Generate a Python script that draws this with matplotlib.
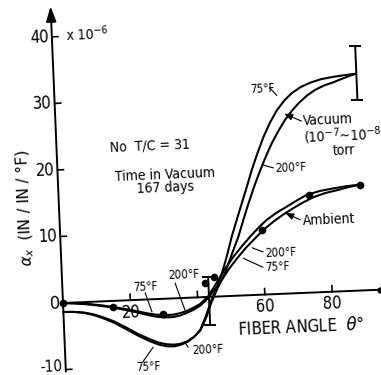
import matplotlib
matplotlib.use("Agg")
import matplotlib.pyplot as plt
from matplotlib.transforms import Affine2D

# thermal expansion alpha_x (x 10^-6 in/in/F) vs fiber angle (deg)
theta_vac_75 = [0, 3, 6, 9, 12, 15, 18.7, 22, 25.4, 28, 30.3, 32.5, 34.5, 36.5, 38.5, 40.4, 42.3, 44.0,
                45.8, 47.5, 49.2, 50.9, 52.6, 54.3, 56.0, 57.7, 59.6, 61.6, 63.7, 65.9, 68.2, 70.5,
                73.2, 76.1, 79.3, 82.5, 86.0, 89.6]
alpha_vac_75 = [-1.35, -1.4, -1.6, -2.0, -2.6, -3.3, -4.4, -5.4, -6.3, -6.85, -7.15, -7.2, -7.0, -6.6,
                -5.9, -4.9, -2.8, -0.6, 1.3, 3.4, 6.0, 8.9, 11.4, 13.85, 16.3, 18.8, 21.3, 23.7, 25.8,
                27.6, 29.0, 30.05, 30.9, 31.5, 31.95, 32.2, 32.4, 32.55]

theta_vac_200 = [0, 3, 6, 9, 12, 15, 18.7, 22, 25.4, 28, 30.3, 32.5, 34.5, 36.5, 38.5, 40.4, 42.3, 44.0,
                 46.0, 48.4, 50.5, 52.9, 54.6, 56.3, 58.2, 60.2, 62.1, 64.0, 66.1, 68.2, 70.3, 72.4,
                 75.0, 77.5, 80.2, 82.9, 86.2, 89.6]
alpha_vac_200 = [-1.35, -1.4, -1.55, -1.9, -2.45, -3.1, -4.15, -5.15, -6.0, -6.55, -6.85, -6.95, -6.85,
                 -6.5, -5.9, -5.0, -3.1, -0.9, 1.2, 3.4, 6.0, 8.9, 11.4, 13.8, 16.3, 18.7, 20.8, 22.7,
                 24.5, 26.1, 27.4, 28.5, 29.6, 30.4, 31.0, 31.4, 32.0, 32.55]

theta_amb_200 = [0, 4, 8, 11.5, 14.8, 19, 22.7, 25.5, 27.7, 30, 32.5, 34.7, 36.7, 38.8, 40.7, 43.1, 45.9,
                 48.5, 51.2, 53.8, 56.4, 59, 61.5, 64.5, 67.6, 70.6, 73.7, 77.7, 81.7, 85.7, 89.7]
alpha_amb_200 = [0, -0.15, -0.35, -0.6, -0.9, -1.35, -1.8, -2.15, -2.35, -2.45, -2.45, -2.25, -1.95,
                 -1.5, -1.0, 0.05, 2.1, 4.1, 5.9, 7.4, 8.8, 10.1, 11.2, 12.2, 13.05, 13.9, 14.7, 15.2,
                 15.5, 15.75, 15.9]

theta_amb_75 = [0, 4, 8, 11.5, 14.8, 19, 22.7, 25.5, 27.7, 30, 32.5, 34.7, 36.7, 38.8, 40.7, 43.1, 46.9,
                49.5, 52.2, 55, 57.8, 60.6, 63.5, 66.5, 69.6, 72.6, 75.6, 79.2, 82.7, 86.2, 89.7]
alpha_amb_75 = [0, -0.15, -0.4, -0.7, -1.0, -1.5, -2.0, -2.4, -2.65, -2.8, -2.8, -2.6, -2.25, -1.8,
                -1.25, -0.2, 2.1, 3.95, 5.6, 7.15, 8.5, 9.8, 10.9, 11.9, 12.8, 13.6, 14.3, 14.85, 15.2,
                15.6, 15.9]

theta_pts = [0, 14.9, 29.6, 42.4, 45.0, 59.9, 74.2, 89.7]
alpha_pts = [0, -0.9, -2.3, 2.15, 3.0, 9.7, 14.7, 15.9]

err_theta = [43.4, 89.9]
err_lo = [-4.2, 28.65]
err_hi = [3.0, 36.65]

xticks = [20, 40, 60, 80]
xticklabels = ["20", "", "60", "80"]
yticks = [-10, 10, 20, 30, 40]
yticklabels = ["-10", "10", "20", "30", "40"]

plt.rcParams["font.family"] = ["DejaVu Sans"]

fig = plt.figure(figsize=(3.81, 3.75), dpi=100)
ax = fig.add_axes([0, 0, 1, 1])
ax.set_xlim(-18.71, 94.45)
ax.set_ylim(-10.81, 45.5)
ax.axis("off")

# the scanned page is tilted a little, so everything is drawn rotated about the origin
skew = 2.4
ox, oy = ax.transData.transform((0, 0))
tr = ax.transData + Affine2D().rotate_deg_around(ox, oy, skew)

k = "black"
lw = 1.5

# axes
ax.plot([0, 94.2], [0, 0], color=k, lw=1.4, transform=tr)
ax.plot([94.2], [0], "o", ms=3.5, color=k, transform=tr)
ax.annotate("", xy=(0, 44.6), xytext=(0, -10.3), xycoords=tr, textcoords=tr,
            arrowprops=dict(arrowstyle="-|>,head_length=0.9,head_width=0.3", lw=1.4, color=k,
                            shrinkA=0, shrinkB=0))
for y, lab in zip(yticks, yticklabels):
    ax.plot([0, 1.8], [y, y], color=k, lw=1.2, transform=tr)
    ty = y if y > 0 else y + 0.5
    ax.text(-0.9, ty, lab, ha="right", va="center", fontsize=12 if y > 0 else 11,
            fontstretch="condensed", rotation=skew, rotation_mode="anchor", transform=tr)
ax.text(-0.9, 0, "0", ha="right", va="center", fontsize=12, rotation=skew,
        rotation_mode="anchor", transform=tr)
for x, lab in zip(xticks, xticklabels):
    ax.plot([x, x], [0, 0.9], color=k, lw=1.2, transform=tr)
    ax.text(x, -1.8, lab, ha="center", va="center", fontsize=12, fontstretch="condensed",
            rotation=skew, rotation_mode="anchor", transform=tr)

# curves
for th, al in [(theta_vac_75, alpha_vac_75), (theta_vac_200, alpha_vac_200),
               (theta_amb_75, alpha_amb_75), (theta_amb_200, alpha_amb_200)]:
    ax.plot(th, al, color=k, lw=lw, solid_capstyle="round", solid_joinstyle="round", transform=tr)
ax.plot(theta_pts, alpha_pts, "o", ms=4.5, color=k, transform=tr)

for x, lo, hi in zip(err_theta, err_lo, err_hi):
    ax.plot([x, x], [lo, hi], color=k, lw=1.4, transform=tr)
    ax.plot([x, x], [lo, hi], ls="none", marker="_", ms=8, mew=1.4, color=k, transform=tr)


def label(x, y, s, size=8.5, ha="left", **kw):
    ax.text(x, y, s, ha=ha, va="center", fontsize=size, fontstretch="condensed",
            rotation=skew, rotation_mode="anchor", transform=tr, **kw)


def leader(x0, y0, x1, y1, arrow=False):
    style = "-|>,head_length=0.5,head_width=0.2" if arrow else "-"
    ax.annotate("", xy=(x0, y0), xytext=(x1, y1), xycoords=tr, textcoords=tr,
                arrowprops=dict(arrowstyle=style, lw=0.8, color=k, shrinkA=0, shrinkB=0))


label(4.0, 40.3, r"x 10$^{-6}$", size=10)
label(15.9, 23.1, "No  T/C = 31", size=10)
label(31.9, 17.6, "Time in Vacuum\n167 days", size=10, ha="center", linespacing=0.95)
label(70.4, -5.2, "FIBER ANGLE  $\\theta$°", size=12, ha="center")
ax.text(-10.1, 14.5, r"$\alpha_x$  (IN / IN / °F)", ha="center", va="center", fontsize=11,
        rotation=90 + skew, rotation_mode="anchor", transform=tr)

label(61.8, 30.9, "75°F", ha="center")
leader(66.0, 29.8, 64.0, 31.0)
label(73.5, 25.8, "Vacuum", size=10)
leader(68.0, 27.0, 73.0, 25.8, arrow=True)
label(73.4, 23.3, r"(10$^{-7}$~10$^{-8}$", size=10)
label(81.8, 21.1, "torr", size=10)
label(64.6, 18.8, "200°F")
leader(60.8, 19.5, 64.1, 18.95)

label(72.3, 10.8, "Ambient", size=10)
leader(67.1, 12.1, 71.4, 11.0, arrow=True)
label(60.6, 6.2, "200°F")
leader(56.8, 7.1, 60.0, 6.4)
label(60.4, 4.0, "75°F")
leader(54.0, 5.6, 59.8, 4.1)

label(24.6, 1.9, "75°F", ha="center")
leader(24.5, 1.0, 26.3, -1.9)
label(36.3, 3.4, "200°F", ha="center")
leader(33.5, 2.3, 36.1, -1.8)

label(24.4, -10.1, "75°F", ha="center")
leader(23.0, -9.3, 26.2, -7.2)
label(37.7, -7.9, "200°F")
leader(36.6, -7.4, 35.5, -6.6)

fig.savefig("out.png", dpi=100)
